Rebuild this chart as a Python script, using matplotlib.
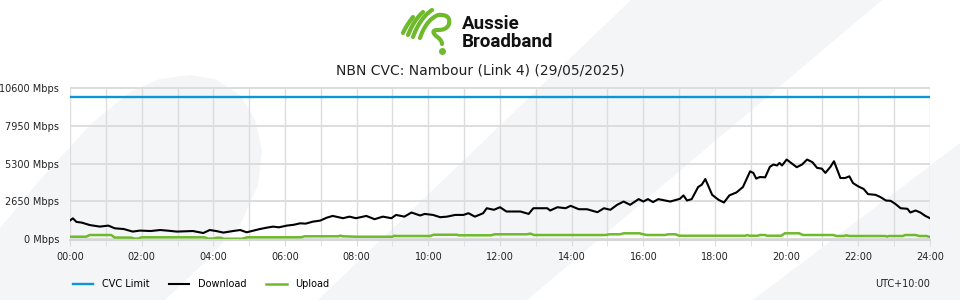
import numpy as np
import matplotlib
matplotlib.use("Agg")
import matplotlib.pyplot as plt
from matplotlib.patches import Polygon

# ---- data (hours of day, Mbps) ----
cvc_hours = [0, 24]
cvc_limit = [10000, 10000]

dl_hours = [0, 0.08, 0.18, 0.33, 0.55, 0.83, 1.07, 1.25, 1.5, 1.75, 1.95, 2.25, 2.52, 2.75, 2.98,
            3.25, 3.43, 3.72, 3.9, 4.08, 4.28, 4.55, 4.75, 4.93, 5.08, 5.3, 5.5, 5.67, 5.83, 6.05,
            6.25, 6.42, 6.58, 6.78, 6.98, 7.17, 7.33, 7.62, 7.8, 7.98, 8.27, 8.5, 8.73, 8.97, 9.1,
            9.33, 9.53, 9.77, 9.9, 10.13, 10.33, 10.52, 10.75, 10.98, 11.12, 11.3, 11.53, 11.63,
            11.83, 12.0, 12.18, 12.57, 12.8, 12.93, 13.32, 13.4, 13.6, 13.83, 13.97, 14.2, 14.43,
            14.72, 14.9, 15.08, 15.27, 15.45, 15.63, 15.87, 16.0, 16.13, 16.27, 16.42, 16.75,
            17.02, 17.12, 17.22, 17.35, 17.53, 17.63, 17.73, 17.92, 18.1, 18.25, 18.4, 18.6,
            18.78, 18.98, 19.07, 19.15, 19.25, 19.4, 19.53, 19.63, 19.73, 19.8, 19.87, 20.0,
            20.1, 20.28, 20.43, 20.57, 20.72, 20.85, 20.98, 21.08, 21.22, 21.32, 21.5, 21.63,
            21.75, 21.85, 22.0, 22.15, 22.27, 22.48, 22.62, 22.77, 22.9, 23.03, 23.18, 23.37,
            23.45, 23.6, 23.73, 23.87, 24.0]
download = [1300, 1450, 1200, 1150, 980, 870, 940, 750, 700, 520, 590, 560, 630, 580, 520,
            540, 560, 420, 630, 560, 450, 560, 630, 470, 560, 700, 800, 870, 820, 940,
            1000, 1100, 1080, 1220, 1290, 1500, 1620, 1460, 1570, 1460, 1620, 1390, 1570, 1460, 1690,
            1570, 1860, 1650, 1760, 1690, 1530, 1570, 1690, 1690, 1810, 1570, 1810, 2160,
            2050, 2230, 1930, 1930, 1760, 2160, 2160, 2000, 2230, 2160, 2330, 2090, 2090,
            1880, 2160, 2050, 2400, 2630, 2400, 2800, 2630, 2800, 2590, 2800, 2630,
            2820, 3060, 2700, 2800, 3650, 3810, 4210, 3100, 2750, 2560, 3060, 3270,
            3650, 4750, 4640, 4240, 4350, 4330, 5060, 5230, 5160, 5340, 5160, 5580,
            5390, 5040, 5230, 5580, 5390, 4990, 4940, 4640, 5060, 5460, 4280, 4280,
            4400, 3930, 3690, 3510, 3150, 3100, 2940, 2700, 2680, 2470, 2160, 2120,
            1860, 2000, 1860, 1620, 1460]

ul_hours = [0, 0.45, 0.55, 1.15, 1.25, 1.7, 1.8, 1.9, 2.0, 3.75, 3.85, 4.0, 4.1, 4.2, 4.3, 4.45,
            4.8, 4.95, 6.45, 6.55, 7.5, 7.55, 7.6, 8.0, 9.0, 9.05, 9.1, 10.05, 10.15, 10.8, 10.85,
            11.75, 11.85, 12.75, 12.85, 12.95, 14.95, 15.05, 15.35, 15.45, 15.9, 16.0, 16.1, 16.6,
            16.7, 16.9, 17.0, 18.85, 18.9, 18.95, 19.2, 19.25, 19.4, 19.45, 19.85, 19.95, 20.35,
            20.45, 21.3, 21.4, 21.6, 21.65, 21.75, 22.75, 22.8, 22.85, 23.25, 23.3, 23.6, 23.7,
            23.9, 24.0]
upload = [160, 160, 280, 280, 100, 100, 30, 30, 120, 120, 30, 30, 90, 90, 10, 20,
          20, 120, 120, 190, 190, 240, 190, 160, 160, 230, 210, 210, 300, 300, 260,
          260, 330, 330, 380, 280, 280, 330, 330, 400, 400, 330, 280, 280,
          330, 330, 230, 230, 280, 230, 230, 280, 280, 230, 230, 400, 400,
          280, 280, 210, 210, 260, 210, 210, 170, 210, 210, 280, 280, 210,
          210, 140]

yticks = [0, 2650, 5300, 7950, 10600]
xticks = list(range(0, 25, 2))
xlabels = [f"{h:02d}:00" for h in xticks]

BLUE = "#0b96d6"
GREEN = "#6fba2c"
BG = "#f4f5f7"
GRID = "#dddddd"

fig = plt.figure(figsize=(9.6, 3), dpi=100)
fig.patch.set_facecolor("white")

def px(pts):
    return [(x / 960, 1 - y / 300) for x, y in pts]

# background decoration
left_blob = [(0, 300), (0, 228), (40, 180), (90, 125), (130, 92), (160, 79), (190, 75),
             (215, 79), (240, 95), (255, 120), (262, 150), (258, 185), (240, 225),
             (205, 262), (165, 300)]
mid_band = [(318, 300), (631, 0), (882, 0), (527, 300)]
right_band = [(753, 300), (960, 143), (960, 300)]
for shape in (left_blob, mid_band, right_band):
    fig.add_artist(Polygon(px(shape), closed=True, transform=fig.transFigure,
                           facecolor=BG, edgecolor="none", zorder=0))

# logo icon
ia = fig.add_axes([400 / 960, 1 - 54 / 300, 54 / 960, 52 / 300])
ia.set_xlim(0, 54)
ia.set_ylim(0, 52)
ia.axis("off")

def curve(p0, p1, p2, n=30):
    t = np.linspace(0, 1, n)[:, None]
    p0, p1, p2 = map(np.array, (p0, p1, p2))
    return (1 - t) ** 2 * p0 + 2 * (1 - t) * t * p1 + t ** 2 * p2

strokes = [
    [((3, 21), (6, 28), (13, 37))],
    [((8, 19), (14, 34), (23, 42))],
    [((13, 17), (20, 36), (32, 44))],
    [((20, 16), (26, 34), (38, 39)), ((38, 39), (51, 40), (49, 30)),
     ((49, 30), (47, 24), (38, 24)), ((38, 24), (30, 24), (36, 18)),
     ((36, 18), (42, 14), (42, 10))],
]
for s in strokes:
    pts = np.vstack([curve(*seg) for seg in s])
    ia.plot(pts[:, 0], pts[:, 1], color=GREEN, lw=3.0, solid_capstyle="round")
ia.plot([42], [3], "o", color=GREEN, ms=4)

fig.text(462 / 960, 1 - 33 / 300, "Aussie\nBroadband", fontsize=13.5, fontweight="bold",
         family="Roboto", va="center", ha="left", color="#111111", linespacing=0.95)

fig.text(0.5, 1 - 70 / 300, "NBN CVC: Nambour (Link 4) (29/05/2025)", fontsize=10,
         ha="center", va="center", color="#222222")

# main chart
ax = fig.add_axes([70 / 960, 0.2005, 860 / 960, 0.5085])
ax.patch.set_alpha(0)
l1, = ax.plot(cvc_hours, cvc_limit, color=BLUE, lw=1.7, label="CVC Limit")
l2, = ax.plot(dl_hours, download, color="black", lw=1.5, label="Download")
l3, = ax.plot(ul_hours, upload, color=GREEN, lw=1.8, label="Upload")

ax.set_xlim(0, 24)
ax.set_ylim(-60, 10650)
ax.set_xticks(xticks)
ax.set_xticklabels(xlabels)
ax.set_xticks(range(0, 25), minor=True)
ax.set_yticks(yticks)
ax.set_yticklabels([f"{v} Mbps" for v in yticks])
ax.grid(True, which="both", axis="x", color=GRID, lw=1)
ax.grid(True, which="major", axis="y", color=GRID, lw=1.4)
for sp in ["top", "left", "right"]:
    ax.spines[sp].set_visible(False)
ax.spines["bottom"].set_color("#d6d6d6")
ax.spines["bottom"].set_linewidth(1.5)
ax.tick_params(axis="x", which="both", length=4, color=GRID, labelsize=7, pad=5,
               labelcolor="#222222")
ax.tick_params(axis="y", length=0, labelsize=7, pad=8, labelcolor="#222222")

fig.legend(handles=[l1, l2, l3], loc="center left", bbox_to_anchor=(64 / 960, 16 / 300),
           ncol=3, frameon=False, fontsize=7, handlelength=2.1, handletextpad=0.9,
           columnspacing=2.0)
fig.text(930 / 960, 16 / 300, "UTC+10:00", fontsize=7, ha="right", va="center",
         color="#222222")

fig.savefig("out.png", dpi=100)
